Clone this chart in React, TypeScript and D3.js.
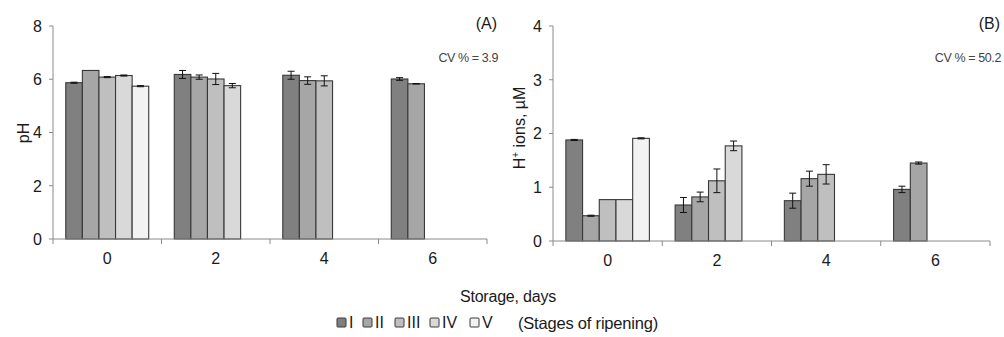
import React from 'react';
import * as d3 from 'd3';

const days = ['0', '2', '4', '6'];
const stages = ['I', 'II', 'III', 'IV', 'V'];
const stageColors = ['#808080', '#a6a6a6', '#bfbfbf', '#d9d9d9', '#f2f2f2'];

// pH by storage day, one value per ripening stage present
const phMean = [
  [5.87, 6.33, 6.08, 6.14, 5.74],
  [6.18, 6.08, 6.01, 5.76],
  [6.15, 5.95, 5.94],
  [6.01, 5.83],
];
const phErr = [
  [0.02, 0.0, 0.02, 0.02, 0.02],
  [0.15, 0.08, 0.21, 0.08],
  [0.15, 0.14, 0.19],
  [0.05, 0.01],
];

// H+ ions (µM)
const hMean = [
  [1.88, 0.47, 0.77, 0.77, 1.91],
  [0.67, 0.82, 1.12, 1.77],
  [0.75, 1.16, 1.24],
  [0.96, 1.45],
];
const hErr = [
  [0.01, 0.01, 0.0, 0.0, 0.01],
  [0.14, 0.09, 0.22, 0.09],
  [0.14, 0.14, 0.18],
  [0.06, 0.02],
];

const phTicks = [0, 2, 4, 6, 8];
const hTicks = [0, 1, 2, 3, 4];

const FONT = '"Liberation Sans", Arial, sans-serif';
const TEXT = '#1a1a1a';
const AXIS = '#8a8a8a';
const STROKE = '#383838';

interface PanelProps {
  left: number;
  right: number;
  top: number;
  bottom: number;
  yMax: number;
  ticks: number[];
  means: number[][];
  errs: number[][];
  tag: string;
  cv: string;
  label: React.ReactNode;
  labelX: number;
  labelY: number;
}

function Panel({ left, right, top, bottom, yMax, ticks, means, errs, tag, cv, label, labelX, labelY }: PanelProps) {
  const x = d3.scaleBand<string>().domain(days).range([left, right]).padding(0);
  const inner = d3.scaleBand<string>().domain(stages).range([0, x.bandwidth()]).paddingInner(0).paddingOuter(0.77);
  const y = d3.scaleLinear().domain([0, yMax]).range([bottom, top]);
  const bw = inner.bandwidth();

  return (
    <g>
      {days.map((d, di) =>
        means[di].map((v, si) => {
          const bx = (x(d) as number) + (inner(stages[si]) as number);
          const e = errs[di][si];
          const cx = bx + bw / 2;
          return (
            <g key={d + si}>
              <rect x={bx} y={y(v)} width={bw} height={y(0) - y(v)} fill={stageColors[si]} stroke={STROKE} strokeWidth={1.1} />
              {e > 0 && (
                <g stroke="#111" strokeWidth={1}>
                  <line x1={cx} x2={cx} y1={y(v + e)} y2={y(v - e)} />
                  <line x1={cx - 3.5} x2={cx + 3.5} y1={y(v + e)} y2={y(v + e)} />
                  <line x1={cx - 3.5} x2={cx + 3.5} y1={y(v - e)} y2={y(v - e)} />
                </g>
              )}
            </g>
          );
        })
      )}
      {/* y axis */}
      <line x1={left} x2={left} y1={y(yMax)} y2={y(0)} stroke={AXIS} />
      {ticks.map((t) => (
        <g key={t}>
          <line x1={left - 4} x2={left} y1={y(t)} y2={y(t)} stroke={AXIS} />
          <text x={left - 11} y={y(t)} dy="0.36em" textAnchor="end" fontSize={16} fontFamily={FONT} fill={TEXT}>
            {t}
          </text>
        </g>
      ))}
      {/* x axis */}
      <line x1={left} x2={right} y1={y(0)} y2={y(0)} stroke={AXIS} />
      {[...days.map((d) => x(d) as number), right].map((tx, i) => (
        <line key={i} x1={tx} x2={tx} y1={y(0)} y2={y(0) + 5} stroke={AXIS} />
      ))}
      {days.map((d) => (
        <text key={d} x={(x(d) as number) + x.bandwidth() / 2} y={y(0) + 25} textAnchor="middle" fontSize={16} fontFamily={FONT} fill={TEXT}>
          {d}
        </text>
      ))}
      <text x={right + 10} y={29} textAnchor="end" fontSize={16} fontFamily={FONT} fill={TEXT}>
        {tag}
      </text>
      <text x={right + 11} y={62} textAnchor="end" fontSize={12.5} fontFamily={FONT} fill="#444" letterSpacing={-0.4}>
        {cv}
      </text>
      <text transform={`translate(${labelX},${labelY}) rotate(-90)`} textAnchor="middle" fontSize={16} fontFamily={FONT} fill={TEXT}>
        {label}
      </text>
    </g>
  );
}

export default function App() {
  const legendX = [337, 363, 395, 430, 470];
  return (
    <svg width={1004} height={337} style={{ position: 'absolute', left: 0, top: 0, background: '#fff' }}>
      <Panel
        left={53}
        right={487}
        top={26}
        bottom={239}
        yMax={8}
        ticks={phTicks}
        means={phMean}
        errs={phErr}
        tag="(A)"
        cv="CV % = 3.9"
        label="pH"
        labelX={29}
        labelY={133}
      />
      <Panel
        left={553}
        right={990}
        top={26}
        bottom={241}
        yMax={4}
        ticks={hTicks}
        means={hMean}
        errs={hErr}
        tag="(B)"
        cv="CV % = 50.2"
        label={
          <>
            H<tspan dy={-6} fontSize={10}>+</tspan>
            <tspan dy={6}> ions, µM</tspan>
          </>
        }
        labelX={525}
        labelY={128}
      />
      <text x={508} y={302} textAnchor="middle" fontSize={16} fontFamily={FONT} fill={TEXT} letterSpacing={-0.2}>
        Storage, days
      </text>
      {stages.map((s, i) => (
        <g key={s}>
          <rect x={legendX[i]} y={318} width={9} height={9} rx={1} fill={stageColors[i]} stroke={STROKE} />
          <text x={legendX[i] + 12} y={328} fontSize={16} fontFamily={FONT} fill={TEXT}>
            {s}
          </text>
        </g>
      ))}
      <text x={518} y={329} fontSize={16.5} fontFamily={FONT} fill={TEXT} letterSpacing={-0.2}>
        (Stages of ripening)
      </text>
    </svg>
  );
}
